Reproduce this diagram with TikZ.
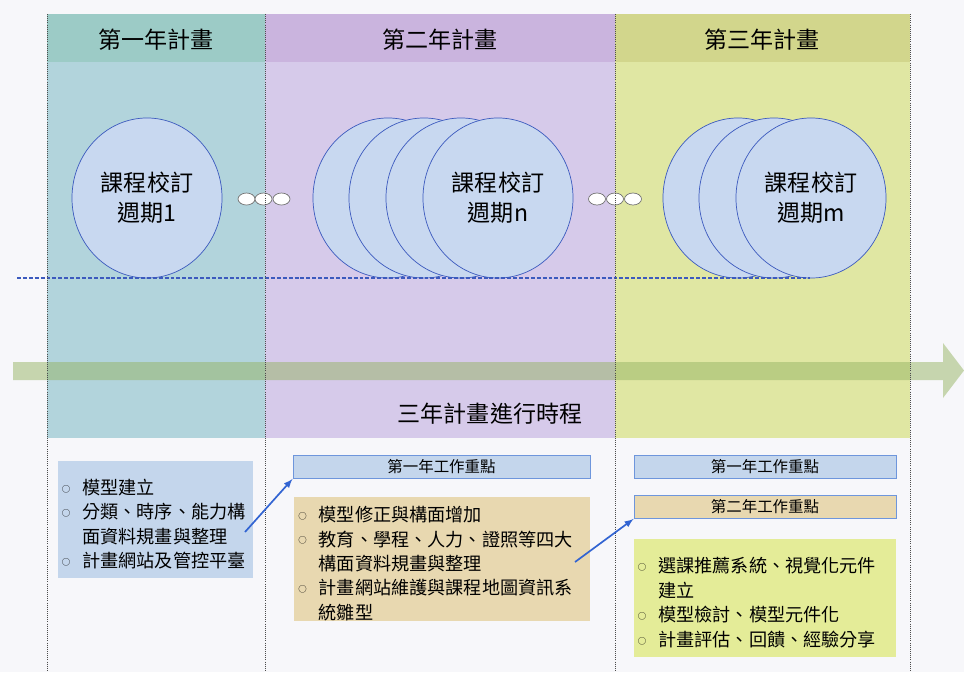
\documentclass[tikz,border=0pt]{standalone}
\usepackage{fontspec}
\setmainfont{Noto Sans CJK TC}
\usepackage{xcolor}
\usepackage{tikz}
\usetikzlibrary{arrows,shapes.geometric}

\definecolor{bgc}{RGB}{247,247,250}
\definecolor{hdA}{RGB}{156,203,198}
\definecolor{bdA}{RGB}{178,212,220}
\definecolor{hdB}{RGB}{202,180,222}
\definecolor{bdB}{RGB}{214,202,234}
\definecolor{hdC}{RGB}{210,214,140}
\definecolor{bdC}{RGB}{224,231,163}
\definecolor{circ}{RGB}{200,216,240}
\definecolor{circline}{RGB}{60,90,190}
\definecolor{band}{RGB}{150,180,100}
\definecolor{boxblue}{RGB}{196,214,236}
\definecolor{boxtan}{RGB}{232,216,176}
\definecolor{boxyel}{RGB}{228,236,152}
\definecolor{taskline}{RGB}{110,150,220}
\definecolor{arrblue}{RGB}{50,100,210}

\newcommand{\itm}[1]{\par\hangindent=14.5pt\hangafter=1\noindent\makebox[14.5pt][l]{\raisebox{1.5pt}{\fontsize{6}{6}\selectfont ○}}#1\par}

\begin{document}
\begin{tikzpicture}[x=0.025cm,y=-0.025cm,
  year/.style={font=\fontsize{16.4}{21}\selectfont},
  review/.style={ellipse,draw=circline,fill=circ,line width=0.5pt,minimum width=3.75cm,minimum height=4cm,inner sep=0pt,align=center,font=\fontsize{16.4}{21.3}\selectfont},
  dots/.style={ellipse,draw=black!55,fill=white,line width=0.5pt,minimum width=0.425cm,minimum height=0.3cm,inner sep=0pt},
  task/.style={draw=taskline,line width=0.6pt,minimum height=0.575cm,inner sep=0pt,font=\fontsize{11}{11}\selectfont},
  list/.style={inner xsep=0.1cm,inner ysep=0pt,font=\fontsize{12.9}{17.4}\selectfont},
  sep/.style={densely dotted,draw=black!70,line width=0.5pt},
  link/.style={-latex,draw=arrblue,line width=1.2pt}]
\useasboundingbox (0,0) rectangle (964,672);
\fill[bgc] (0,0) rectangle (964,672);

% three years
\fill[bdA] (47,14) rectangle (265,438);
\fill[hdA] (47,14) rectangle (265,62);
\fill[bdB] (265,14) rectangle (615,438);
\fill[hdB] (265,14) rectangle (615,62);
\fill[bdC] (615,14) rectangle (910,438);
\fill[hdC] (615,14) rectangle (910,62);
\node[year] (hA) at (156,40) {第一年計畫};
\node[year] (hB) at (440,40) {第二年計畫};
\node[year] (hC) at (762,40) {第三年計畫};

% cycles
\node[review] (cA) at (147,198) {課程校訂\\週期1};
\node[review] (cB1) at (388,198) {};
\node[review] (cB2) at (424,198) {};
\node[review] (cB3) at (461,198) {};
\node[review] (cB) at (498,198) {課程校訂\\週期n};
\node[review] (cC1) at (738,198) {};
\node[review] (cC2) at (774,198) {};
\node[review] (cC) at (811,198) {課程校訂\\週期m};
\node[dots] (dA1) at (246.5,199) {};
\node[dots] (dA2) at (263.5,199) {};
\node[dots] (dA3) at (281.5,199) {};
\node[dots] (dB1) at (597,199) {};
\node[dots] (dB2) at (615,199) {};
\node[dots] (dB3) at (633,199) {};
\draw[circline,line width=1.2pt,dash pattern=on 2.8pt off 1.4pt] (17,278) -- (810,278);

% time line
\fill[band,opacity=0.5] (13,362) -- (943,362) -- (943,343) -- (964,370.5) -- (943,398) -- (943,380) -- (13,380) -- cycle;
\node[year] (tl) at (490,414) {三年計畫進行時程};

\draw[sep] (47,14) -- (47,672);
\draw[sep] (265,14) -- (265,672);
\draw[sep] (615,14) -- (615,672);
\draw[sep] (910,14) -- (910,672);

% work items
\node[list,fill=boxblue,text width=4.675cm,minimum height=2.925cm] (lbox) at (155.5,519.5) {%
\itm{模型建立}
\itm{分類、時序、能力構\newline 面資料規畫與整理}
\itm{計畫網站及管控平臺}};
\node[task,fill=boxblue,minimum width=7.425cm] (m1) at (441.5,467) {第一年工作重點};
\node[list,fill=boxtan,text width=7.175cm,minimum height=2.95cm] (mbox) at (442,559) {%
\itm{模型修正與構面增加}
\itm{教育、學程、人力、證照等四大\newline 構面資料規畫與整理}
\itm{計畫網站維護與課程地圖資訊系\newline 統雛型}};
\node[task,fill=boxblue,minimum width=6.55cm] (r1) at (765,466.5) {第一年工作重點};
\node[task,fill=boxtan,minimum width=6.55cm] (r2) at (765,507) {第二年工作重點};
\node[list,fill=boxyel,text width=6.35cm,minimum height=2.95cm] (rbox) at (765,598) {%
\itm{選課推薦系統、視覺化元件\newline 建立}
\itm{模型檢討、模型元件化}
\itm{計畫評估、回饋、經驗分享}};

\coordinate (s1) at (245,532);
\coordinate (s2) at (575,562);
\draw[link] (s1) -- (m1.south west);
\draw[link] (s2) -- (r2.south west);
\end{tikzpicture}
\end{document}
